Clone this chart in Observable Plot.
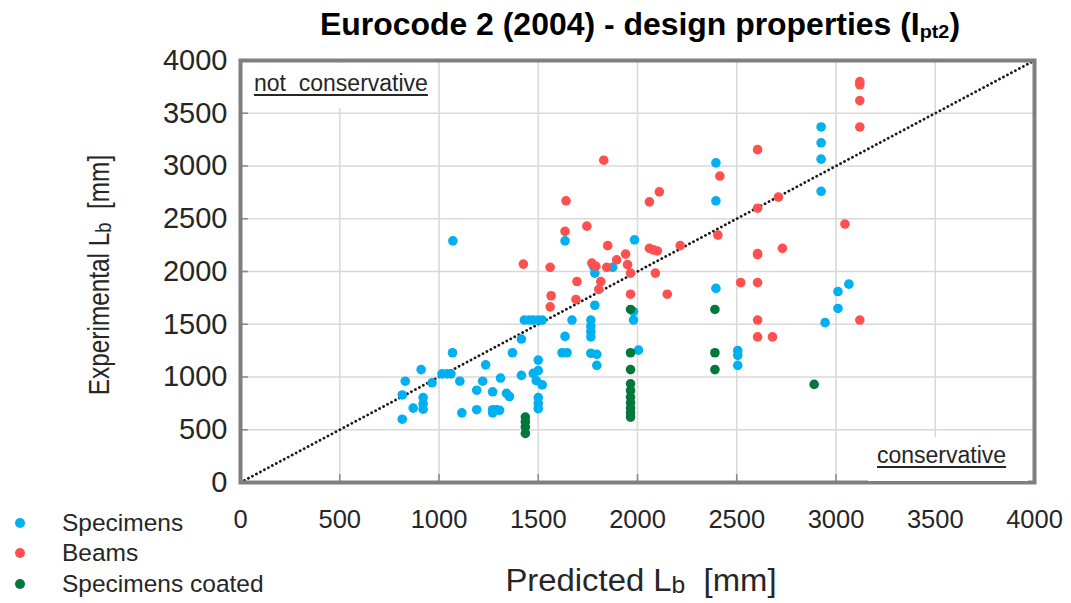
<!DOCTYPE html>
<html><head><meta charset="utf-8">
<script src="https://cdn.jsdelivr.net/npm/d3@7"></script>
<script src="https://cdn.jsdelivr.net/npm/@observablehq/plot@0.6"></script>
<style>
body{margin:0;background:#fff;font-family:"Liberation Sans",Arial,sans-serif;}
#wrap{position:relative;width:1071px;height:603px;overflow:hidden;background:#fff;}
#wrap svg{position:absolute;left:0;top:0;}
.abs{position:absolute;white-space:nowrap;color:#000;line-height:1;}
.title{left:640px;top:25px;font-weight:bold;font-size:31px;transform:translate(-50%,-50%) scaleX(1.03);}
.title sub{font-size:0.62em;vertical-align:-0.12em;}
.ylab{left:100px;top:275px;font-size:29px;color:#262626;transform:translate(-50%,-50%) rotate(-90deg) scaleX(0.84);}
.xlab{left:641px;top:581px;font-size:31px;color:#262626;transform:translate(-50%,-50%) scaleX(1.06);}
.ylab sub,.xlab sub{font-size:0.75em;vertical-align:-0.1em;}
.note{background:#fff;font-size:23px;color:#262626;}
.note span{text-decoration:underline;text-underline-offset:3px;}
.leg{left:0;font-size:24.5px;color:#262626;}
.leg i{display:inline-block;width:10px;height:10px;border-radius:50%;margin-left:15px;margin-right:37px;vertical-align:middle;position:relative;top:-2px;}
</style></head>
<body><div id="wrap"></div>
<script>
// tick values
const ticks = [0, 500, 1000, 1500, 2000, 2500, 3000, 3500, 4000];
// 1:1 line
const diagX = [0, 4000];
const diagY = [0, 4000];
// Specimens (blue)
const specX = [815,815,830,910,870,920,920,920,965,1015,1040,1060,1068,1070,1105,1115,1190,1190,1220,1235,1270,1270,1290,1270,1305,1310,1340,1355,1370,1415,1415,1430,1455,1475,1500,1520,1500,1475,1500,1490,1520,1500,1500,1500,1635,1620,1645,1670,1785,1765,1765,1765,1765,1765,1795,1795,1635,1985,1780,1785,1875,1980,1980,2005,2395,2395,2395,2505,2505,2505,2925,2925,2925,2925,3010,3010,3065,2945];
const specY = [600,830,960,1070,705,805,745,695,945,1030,1030,1030,1230,2290,960,660,875,690,960,1115,860,690,690,660,685,990,845,815,1230,1360,1015,1540,1540,1540,1540,1540,1160,1035,1060,965,925,805,750,700,1385,1230,1230,1540,1680,1540,1480,1430,1380,1225,1215,1110,2290,2300,2045,1985,2040,1620,1540,1255,3030,2670,1840,1250,1205,1110,3370,3220,3065,2760,1810,1650,1880,1515];
// Beams (red)
const beamX = [1425,1560,1565,1560,1635,1640,1690,1695,1745,1770,1790,1805,1815,1830,1845,1850,1895,1940,1950,1965,1965,2060,2060,2080,2100,2090,2110,2150,2215,2405,2415,2520,2605,2605,2605,2605,2605,2605,2605,2680,2710,2730,3045,3120,3120,3120,3120,3120];
const beamY = [2070,2040,1770,1665,2380,2670,1735,1905,2430,2080,2050,1830,1905,3055,2040,2245,2110,2165,2065,1985,1785,2660,2220,2205,2195,1985,2755,1785,2245,2345,2905,1895,3155,2600,2170,2160,1895,1540,1380,1380,2705,2220,2450,3800,3770,3620,3370,1540];
// Specimens coated (green)
const coatX = [1435,1435,1435,1435,1965,1965,1965,1965,1965,1965,1965,1965,1965,1965,2390,2390,2390,2890];
const coatY = [620,575,525,465,1640,1230,1070,935,870,810,755,705,660,620,1640,1230,1070,930];
// legend
const seriesNames = ["Specimens", "Beams", "Specimens coated"];
const seriesColors = ["#00b0f0", "#ff5050", "#00783c"];

const pts = (xs, ys) => xs.map((x, i) => ({x, y: ys[i]}));
const spec = pts(specX, specY), beam = pts(beamX, beamY), coat = pts(coatX, coatY), diag = pts(diagX, diagY);

const chart = Plot.plot({
  width: 1071, height: 603,
  marginLeft: 240, marginRight: 37, marginTop: 60, marginBottom: 121,
  style: {fontFamily: "'Liberation Sans', Arial, sans-serif", color: "#262626", background: "none", overflow: "visible"},
  x: {domain: [0, 4000]},
  y: {domain: [0, 4000]},
  marks: [
    Plot.gridX(ticks, {stroke: "#d9d9d9", strokeOpacity: 1, strokeWidth: 1.6}),
    Plot.gridY(ticks, {stroke: "#d9d9d9", strokeOpacity: 1, strokeWidth: 1.6}),
    Plot.ruleY(ticks, {x1: 0, x2: 40, stroke: "#8c8c8c", strokeWidth: 1.6}),
    Plot.ruleX(ticks, {y1: 0, y2: 75, stroke: "#8c8c8c", strokeWidth: 1.6}),
    Plot.axisX(ticks, {tickSize: 0, tickPadding: 27, fontSize: 25.5, label: null, tickFormat: d => String(d)}),
    Plot.axisY(ticks, {tickSize: 0, tickPadding: 13, fontSize: 29, label: null, tickFormat: d => String(d)}),
    Plot.line(diag, {x: "x", y: "y", stroke: "#1a1a1a", strokeWidth: 2.8, strokeDasharray: "0.1 4.4", strokeLinecap: "round"}),
    Plot.dot(spec, {x: "x", y: "y", r: 4.8, fill: seriesColors[0]}),
    Plot.dot(beam, {x: "x", y: "y", r: 4.8, fill: seriesColors[1]}),
    Plot.dot(coat, {x: "x", y: "y", r: 4.8, fill: seriesColors[2]}),
    Plot.frame({stroke: "#7f7f7f", strokeWidth: 4})
  ]
});

const wrap = document.getElementById("wrap");
wrap.appendChild(chart);

function add(cls, html, style) {
  const d = document.createElement("div");
  d.className = "abs " + cls;
  d.innerHTML = html;
  if (style) Object.assign(d.style, style);
  wrap.appendChild(d);
  return d;
}
add("title", "Eurocode 2 (2004) - design properties (I<sub>pt2</sub>)");
add("ylab", "Experimental L<sub>b</sub>&nbsp; [mm]");
add("xlab", "Predicted L<sub>b</sub>&nbsp; [mm]");
add("note", "<span>not&nbsp; conservative</span>", {left: "244px", top: "63px", padding: "9px 6px 13px 10px"});
add("note", "<span>conservative</span>", {left: "868px", top: "437px", padding: "7px 22px 14px 9px"});
const legTops = [511, 541, 572];
seriesNames.forEach((n, i) => add("leg", `<i style="background:${seriesColors[i]}"></i>${n}`, {top: legTops[i] + "px"}));
</script>
</body></html>
